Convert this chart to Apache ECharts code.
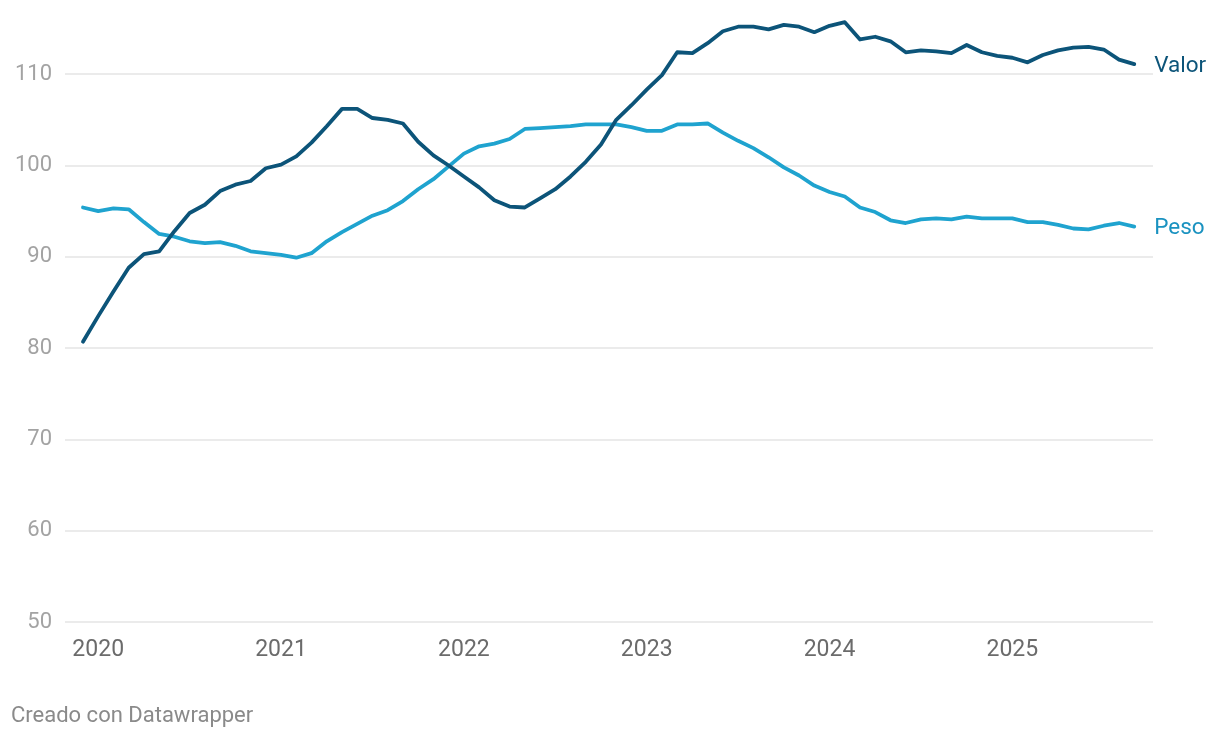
<!DOCTYPE html>
<html>
<head>
<meta charset="utf-8">
<script src="https://cdn.jsdelivr.net/npm/echarts@6/dist/echarts.min.js"></script>
<style>
  html, body { margin: 0; padding: 0; background: #ffffff; }
  #chart { width: 1220px; height: 738px; }
</style>
</head>
<body>
<div id="chart"></div>
<script>
// Monthly data, Dec 2019 .. Sep 2025
const months = [
  '2019-12',
  '2020-01','2020-02','2020-03','2020-04','2020-05','2020-06','2020-07','2020-08','2020-09','2020-10','2020-11','2020-12',
  '2021-01','2021-02','2021-03','2021-04','2021-05','2021-06','2021-07','2021-08','2021-09','2021-10','2021-11','2021-12',
  '2022-01','2022-02','2022-03','2022-04','2022-05','2022-06','2022-07','2022-08','2022-09','2022-10','2022-11','2022-12',
  '2023-01','2023-02','2023-03','2023-04','2023-05','2023-06','2023-07','2023-08','2023-09','2023-10','2023-11','2023-12',
  '2024-01','2024-02','2024-03','2024-04','2024-05','2024-06','2024-07','2024-08','2024-09','2024-10','2024-11','2024-12',
  '2025-01','2025-02','2025-03','2025-04','2025-05','2025-06','2025-07','2025-08','2025-09'
];

const valor = [
  80.7,
  83.5, 86.2, 88.8, 90.3, 90.6, 92.8, 94.8, 95.7, 97.2, 97.9, 98.3, 99.7,
  100.1, 101.0, 102.5, 104.3, 106.2, 106.2, 105.2, 105.0, 104.6, 102.6, 101.1, 100.0,
  98.8, 97.6, 96.2, 95.5, 95.4, 96.4, 97.4, 98.8, 100.4, 102.3, 105.0, 106.6,
  108.3, 109.9, 112.4, 112.3, 113.4, 114.7, 115.2, 115.2, 114.9, 115.4, 115.2, 114.6,
  115.3, 115.7, 113.8, 114.1, 113.6, 112.4, 112.6, 112.5, 112.3, 113.2, 112.4, 112.0,
  111.8, 111.3, 112.1, 112.6, 112.9, 113.0, 112.7, 111.6, 111.1
];

const peso = [
  95.4,
  95.0, 95.3, 95.2, 93.8, 92.5, 92.2, 91.7, 91.5, 91.6, 91.2, 90.6, 90.4,
  90.2, 89.9, 90.4, 91.7, 92.7, 93.6, 94.5, 95.1, 96.1, 97.4, 98.5, 99.9,
  101.3, 102.1, 102.4, 102.9, 104.0, 104.1, 104.2, 104.3, 104.5, 104.5, 104.5, 104.2,
  103.8, 103.8, 104.5, 104.5, 104.6, 103.6, 102.7, 101.9, 100.9, 99.8, 98.9, 97.8,
  97.1, 96.6, 95.4, 94.9, 94.0, 93.7, 94.1, 94.2, 94.1, 94.4, 94.2, 94.2,
  94.2, 93.8, 93.8, 93.5, 93.1, 93.0, 93.4, 93.7, 93.3
];

const yearLabels = ['2020', '2021', '2022', '2023', '2024', '2025'];
const seriesNames = ['Valor', 'Peso'];
const footerText = 'Creado con Datawrapper';

// x positions = month index; year ticks at each January
const yearTickIdx = yearLabels.map(y => months.indexOf(y + '-01'));
const toPairs = arr => arr.map((v, i) => [i, v]);

const chart = echarts.init(document.getElementById('chart'), null, { renderer: 'canvas' });
const FONT = 'Roboto, "Noto Sans", sans-serif';

chart.setOption({
  animation: false,
  backgroundColor: '#ffffff',
  textStyle: { fontFamily: FONT },
  title: {
    text: footerText,
    left: 11,
    top: 705,
    padding: 0,
    textStyle: { fontFamily: FONT, fontSize: 22, fontWeight: 'normal', color: '#8a8a8a' }
  },
  grid: { left: 65, right: 67, top: 19.4, bottom: 116, containLabel: false, outerBoundsMode: 'none' },
  xAxis: {
    type: 'value',
    min: -1.18,
    max: 70.23,
    axisLine: { show: false },
    axisTick: { show: false },
    splitLine: { show: false },
    axisLabel: {
      customValues: yearTickIdx,
      formatter: v => yearLabels[yearTickIdx.indexOf(Math.round(v))] || '',
      fontFamily: FONT,
      fontSize: 23,
      color: '#6b6b6b',
      margin: 17
    }
  },
  yAxis: {
    type: 'value',
    min: 50,
    max: 116,
    interval: 10,
    axisLine: { show: false },
    axisTick: { show: false },
    axisLabel: {
      fontFamily: FONT,
      fontSize: 22,
      color: '#a3a3a3',
      margin: 13,
      showMaxLabel: false
    },
    splitLine: {
      show: true,
      showMaxLine: false,
      lineStyle: { color: '#e4e4e4', width: 1.6 }
    }
  },
  series: [
    {
      name: seriesNames[0],
      type: 'line',
      data: toPairs(valor),
      showSymbol: false,
      lineStyle: { color: '#0c5479', width: 3.8, join: 'round', cap: 'round' },
      itemStyle: { color: '#0c5479' },
      endLabel: {
        show: true,
        formatter: '{a}',
        distance: 20,
        offset: [0, 2],
        fontFamily: FONT,
        fontSize: 22.5,
        color: '#0c5479'
      },
      z: 3
    },
    {
      name: seriesNames[1],
      type: 'line',
      data: toPairs(peso),
      showSymbol: false,
      lineStyle: { color: '#1fa3cf', width: 3.8, join: 'round', cap: 'round' },
      itemStyle: { color: '#1fa3cf' },
      endLabel: {
        show: true,
        formatter: '{a}',
        distance: 20,
        offset: [0, 2],
        fontFamily: FONT,
        fontSize: 22.5,
        color: '#1a92c0'
      },
      z: 2
    }
  ]
});
</script>
</body>
</html>
